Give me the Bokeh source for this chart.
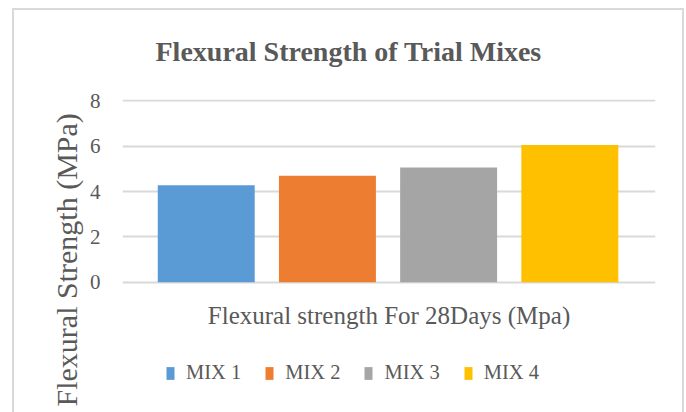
from bokeh.plotting import figure
from bokeh.models import Range1d, FixedTicker, ColumnDataSource, Legend, LegendItem, Title, Label
from bokeh.embed import file_html
from bokeh.resources import INLINE

# ---- data ----
mixes = ["MIX 1", "MIX 2", "MIX 3", "MIX 4"]
strength = [4.28, 4.70, 5.06, 6.05]
colors = ["#5B9BD5", "#ED7D31", "#A5A5A5", "#FFC000"]
y_ticks = [0, 2, 4, 6, 8]
title_text = "Flexural Strength of Trial Mixes"
x_label = "Flexural strength For 28Days (Mpa)"
y_label = "Flexural Strength (MPa)"

FONT = "Liberation Serif"
TEXT = "#595959"
GRID = "#D9D9D9"

src = ColumnDataSource(dict(
    x=[i + 1 for i in range(len(mixes))],
    top=strength,
    mix=mixes,
    color=colors,
))

# the frame extends below the value axis so that the category label and
# the legend sit inside it (as in the original spreadsheet chart)
x_rng = Range1d(0.309, 4.707)
y_rng = Range1d(-5.22, 8.06)

p = figure(width=686, height=412, output_backend="svg", toolbar_location=None,
           x_range=x_rng, y_range=y_rng,
           min_border_left=122, min_border_right=31, min_border_top=99,
           min_border_bottom=12)

p.border_fill_color = None
p.background_fill_color = None
p.outline_line_color = None
p.styles = {
    "box-shadow": "inset 12px 0 0 #ffffff, inset 0 8px 0 #ffffff, inset -2px 0 0 #ffffff, "
                  "inset 14px 0 0 #D9D9D9, inset 0 10px 0 #D9D9D9, inset -4px 0 0 #D9D9D9"
}

r = p.vbar(x="x", top="top", width=0.8, bottom=0, color="color",
           line_color=None, source=src)

# title
p.title.text = title_text
p.title.align = "left"
p.title.offset = 33
p.title.standoff = 66
p.title.text_font = FONT
p.title.text_font_size = "28px"
p.title.text_font_style = "bold"
p.title.text_color = TEXT

# y axis
p.yaxis.ticker = FixedTicker(ticks=y_ticks)
p.yaxis.axis_line_color = None
p.yaxis.major_tick_line_color = None
p.yaxis.minor_tick_line_color = None
p.yaxis.major_tick_in = 0
p.yaxis.major_tick_out = 0
p.yaxis.major_label_standoff = 22
p.yaxis.major_label_text_font = FONT
p.yaxis.major_label_text_font_size = "21px"
p.yaxis.major_label_text_color = TEXT

# x axis: only its title is shown (drawn as a label under the bars)
p.xaxis.visible = False
xl = Label(x=(x_rng.start + x_rng.end) / 2, y=-1.47, text=x_label,
           text_align="center", text_baseline="middle",
           text_font=FONT, text_font_size="25px", text_color=TEXT)
p.add_layout(xl)

# grid
p.xgrid.visible = False
p.ygrid.ticker = FixedTicker(ticks=y_ticks)
p.ygrid.grid_line_color = GRID
p.ygrid.grid_line_width = 2

# vertical y label as a side title
yt = Title(text=y_label, align="left", offset=-6, standoff=8,
           text_font=FONT, text_font_size="30px", text_font_style="normal",
           text_color=TEXT)
p.add_layout(yt, "left")

# legend
items = [LegendItem(label=m, renderers=[r], index=i) for i, m in enumerate(mixes)]
legend = Legend(items=items, orientation="horizontal", location=(43, 16),
                padding=0, margin=0, spacing=23, glyph_width=10, glyph_height=16,
                label_standoff=11, label_text_font=FONT,
                label_text_font_size="20.5px", label_text_color=TEXT,
                border_line_color=None, background_fill_alpha=0)
p.add_layout(legend)

open("out.html", "w").write(file_html(p, INLINE))
